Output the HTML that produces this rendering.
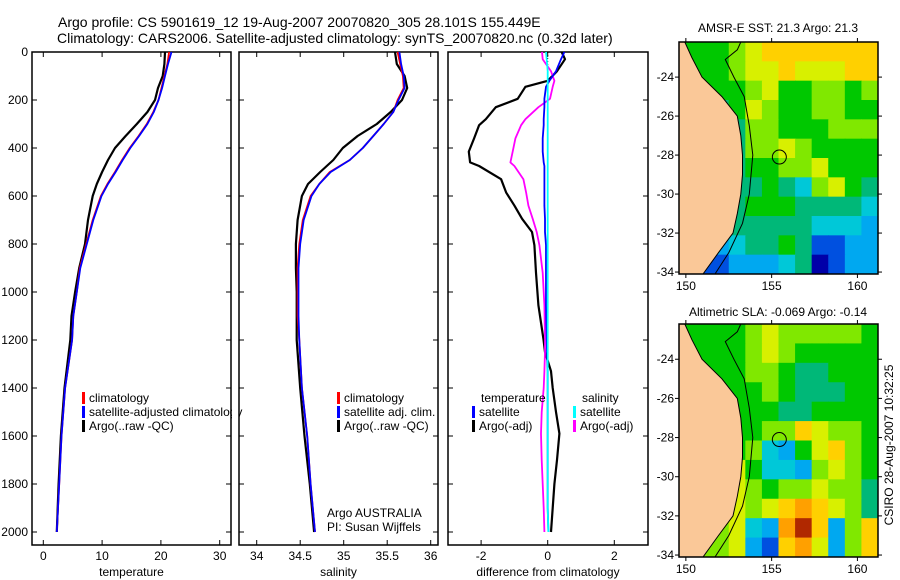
<!DOCTYPE html>
<html><head><meta charset="utf-8">
<style>
html,body{margin:0;padding:0;background:#fff;}
svg{display:block;font-family:"Liberation Sans",sans-serif;}
</style></head>
<body>
<svg id="fig" width="900" height="580" viewBox="0 0 900 580" xmlns="http://www.w3.org/2000/svg">
<text x="58" y="27" font-size="14">Argo profile: CS 5901619_12 19-Aug-2007 20070820_305 28.101S 155.449E</text>
<text x="57" y="43" font-size="14">Climatology: CARS2006. Satellite-adjusted climatology: synTS_20070820.nc (0.32d later)</text>
<text x="778" y="32" font-size="12" text-anchor="middle">AMSR-E SST: 21.3 Argo: 21.3</text>
<text x="778" y="316" font-size="12" text-anchor="middle">Altimetric SLA: -0.069 Argo: -0.14</text>
<text transform="translate(893,445) rotate(-90)" font-size="12" text-anchor="middle">CSIRO 28-Aug-2007 10:32:25</text>
</svg>
<script>
// ---- profile data ----
const depthsP = [0,50,100,150,200,250,300,350,400,450,500,550,600,700,800,900,1000,1100,1200,1400,1600,1800,2000];
const climT = [21.4,21.1,20.6,20.1,19.6,18.7,17.6,16.2,14.7,13.4,12.2,10.9,9.8,8.4,7.3,6.2,5.7,5.1,4.9,3.7,3.1,2.7,2.3];
const satT  = [21.8,21.2,20.7,20.2,19.6,18.8,17.7,16.3,14.8,13.5,12.3,11.0,9.9,8.5,7.4,6.3,5.7,5.1,4.9,3.7,3.1,2.7,2.3];
const argoT = [20.7,20.6,20.3,19.5,19.0,17.7,15.9,14.0,12.2,11.0,10.0,9.1,8.4,7.6,7.1,6.1,5.4,4.8,4.6,3.6,3.0,2.6,2.3];
const climS = [35.62,35.65,35.68,35.69,35.62,35.57,35.46,35.34,35.22,35.07,34.84,34.72,34.62,34.53,34.49,34.47,34.47,34.47,34.49,34.52,34.58,34.62,34.67];
const satS  = [35.64,35.66,35.69,35.70,35.63,35.57,35.46,35.34,35.22,35.07,34.85,34.72,34.63,34.54,34.50,34.48,34.48,34.48,34.49,34.52,34.58,34.62,34.67];
const argoS = [35.59,35.61,35.70,35.73,35.67,35.54,35.38,35.16,34.99,34.88,34.73,34.59,34.52,34.47,34.45,34.45,34.46,34.46,34.46,34.50,34.55,34.61,34.66];
const depthsD = [0,30,80,120,145,195,230,280,305,360,415,460,475,530,585,640,695,750,805,920,1055,1195,1250,1330,1400,1500,1590,1700,1800,1900,2000];
const dArgoT = [0.42,0.52,0.28,0,-0.67,-0.9,-1.56,-1.86,-2.06,-2.21,-2.37,-2.33,-2.06,-1.4,-1.25,-1.0,-0.77,-0.47,-0.4,-0.35,-0.28,-0.13,-0.08,0.1,0.15,0.25,0.35,0.28,0.2,0.15,0.1];
const dArgoS = [-0.17,-0.15,0.1,0.2,0.15,0.07,-0.28,-0.67,-0.8,-0.97,-1.05,-1.12,-1.0,-0.73,-0.65,-0.58,-0.45,-0.33,-0.25,-0.15,-0.1,-0.08,-0.08,-0.1,-0.12,-0.18,-0.2,-0.18,-0.15,-0.12,-0.1];
const dSatT = [0.5,0.4,0.25,0.05,-0.05,-0.1,-0.1,-0.12,-0.12,-0.15,-0.15,-0.12,-0.1,-0.1,-0.1,-0.1,-0.08,-0.08,-0.05,-0.05,-0.05,-0.03,-0.02,0,0,0,0,0,0,0,0.02];
const dSatS = [-0.05,-0.03,0,0,0,0,0,0,0,0,0,0,0,0,0,0,0,0,0,0,0,0,0,0,0,0,0,0,0,0,0.02];
const depthTicks = [0,200,400,600,800,1000,1200,1400,1600,1800,2000];
const tTicks = [0,10,20,30];
const sTicks = [34,34.5,35,35.5,36];
const sTickLabels = ["34","34.5","35","35.5","36"];
const dTicks = [-2,0,2];
// ---- map data (palette indices 0..11) ----
const sstGrid = [
[5,5,5,6,7,8,8,8,8,8,8,8],
[5,5,5,6,7,7,8,7,7,7,8,8],
[4,5,5,5,6,7,5,5,6,6,5,6],
[4,4,4,5,7,6,5,5,6,6,5,5],
[4,4,4,4,6,6,5,5,5,6,6,6],
[4,4,3,4,6,6,7,6,5,5,5,5],
[4,4,3,4,5,5,6,6,7,5,5,5],
[4,4,3,4,4,5,4,3,6,7,5,4],
[4,4,3,4,5,5,5,4,4,4,4,3],
[3,3,3,4,4,4,4,4,3,3,3,2],
[2,2,2,3,4,4,5,4,1,1,2,2],
[1,1,1,2,2,2,3,4,0,1,2,2]];
const slaGrid = [
[5,5,5,5,6,7,6,6,6,6,6,5],
[5,5,5,5,6,7,6,5,5,5,5,5],
[5,5,5,5,6,6,5,4,4,5,5,5],
[5,5,5,5,5,6,5,4,4,4,5,5],
[5,5,5,5,5,5,4,4,5,5,5,5],
[5,5,5,5,5,6,6,8,7,6,6,5],
[5,5,5,5,6,3,2,5,7,8,6,5],
[5,5,5,7,5,3,3,2,6,7,6,5],
[5,5,5,7,6,5,6,6,7,6,6,4],
[5,6,6,7,6,7,8,9,8,7,6,4],
[5,6,6,7,3,2,9,11,8,2,6,8],
[5,6,6,7,2,1,8,9,7,2,6,8]];
const palette = ["#0000a8","#0050e0","#00a8f0","#00c8d8","#00b878","#00c800","#80e800","#d8f000","#ffd000","#ffa000","#e06000","#b02800"];
const coastLon = [149.94,150.35,150.94,152.1,153.0,153.2,153.3,153.3,153.2,153.0,152.75,151.9,151.0];
const coastLat = [-22.2,-23,-24,-25,-26,-27,-28,-29,-30,-31,-32,-33,-34.1];
const isoLon = [153.2,153.0,152.3,152.8,153.4,153.7,153.9,153.7,153.3,152.5,151.7];
const isoLat = [-22.2,-22.6,-23.1,-24,-25,-26.5,-28,-30,-31.5,-33,-34.1];
const latTicks = [-24,-26,-28,-30,-32,-34];
const lonTicks = [150,155,160];
const argoLon = 155.449, argoLat = -28.101;

const NS = "http://www.w3.org/2000/svg";
const svg = document.getElementById('fig');
function el(tag, attrs, parent){ const e=document.createElementNS(NS,tag); for(const k in attrs) e.setAttribute(k,attrs[k]); (parent||svg).appendChild(e); return e; }

const yTop=52, yBot=545;
const yD = d => 52 + d*0.24;

function panel(name, x0, x1, xs, ticks, labels, xlabel, showY){
  const g = el('g',{});
  
  
  const r = el('rect',{x:x0,y:yTop,width:x1-x0,height:yBot-yTop,fill:'none',stroke:'#000','stroke-width':1.5},g);
  
  
  ticks.forEach((t,i)=>{
    const x = xs(t);
    el('line',{x1:x,y1:yTop,x2:x,y2:yTop+5,stroke:'#000'},g);
    el('line',{x1:x,y1:yBot,x2:x,y2:yBot-5,stroke:'#000'},g);
    const tx = el('text',{x:x,y:560,'font-size':12,'text-anchor':'middle'},g);
    tx.textContent = labels[i];
    
    
  });
  depthTicks.forEach(d=>{
    const y=yD(d);
    el('line',{x1:x0,y1:y,x2:x0+5,y2:y,stroke:'#000'},g);
    el('line',{x1:x1,y1:y,x2:x1-5,y2:y,stroke:'#000'},g);
    if(showY){
      const tx = el('text',{x:28,y:y+4,'font-size':12,'text-anchor':'end'},g);
      tx.textContent = d;
      
      
    }
  });
  const xl = el('text',{x:(x0+x1)/2,y:576,'font-size':12,'text-anchor':'middle'},g);
  xl.textContent = xlabel;
  
  
  return g;
}
function line(name, xsArr, dArr, xs, color, w){
  const pts = xsArr.map((v,i)=>xs(v).toFixed(1)+','+yD(dArr[i]).toFixed(1)).join(' ');
  const p = el('polyline',{points:pts,fill:'none',stroke:color,'stroke-width':w,'stroke-linejoin':'round'});
  
  
}
function legend(name, x, y, color, label){
  const g = el('g',{});
  
  
  el('rect',{x:x,y:y-10,width:3,height:12,fill:color},g);
  const t = el('text',{x:x+7,y:y,'font-size':12},g);
  t.textContent = label;
}

const xT = v => 43.3 + v*5.88;
panel('temperature-panel',32,231,xT,tTicks,tTicks.map(String),'temperature',true);
line('temperature-argo-line', argoT, depthsP, xT, '#000', 2.2);
line('temperature-climatology-line', climT, depthsP, xT, '#f00', 1.8);
line('temperature-satellite-line', satT, depthsP, xT, '#00f', 1.8);
legend('legend-climatology', 82, 402, '#f00', 'climatology');
legend('legend-satellite-adjusted', 82, 416, '#00f', 'satellite-adjusted climatology');
legend('legend-argo-raw', 82, 430, '#000', 'Argo(..raw -QC)');

const cover = el('rect',{x:232,y:52,width:7,height:494,fill:'#fff'});



const xS = v => 256.7 + (v-34)*87;
panel('salinity-panel',239,438,xS,sTicks,sTickLabels,'salinity',false);
line('salinity-argo-line', argoS, depthsP, xS, '#000', 2.2);
line('salinity-climatology-line', climS, depthsP, xS, '#f00', 1.8);
line('salinity-satellite-line', satS, depthsP, xS, '#00f', 1.8);
legend('legend-s-climatology', 337, 402, '#f00', 'climatology');
legend('legend-s-satellite', 337, 416, '#00f', 'satellite adj. clim.');
legend('legend-s-argo', 337, 430, '#000', 'Argo(..raw -QC)');
const a1 = el('text',{x:327,y:517,'font-size':12}); a1.textContent='Argo AUSTRALIA';
 
const a2 = el('text',{x:327,y:531,'font-size':12}); a2.textContent='PI: Susan Wijffels';
 

const xDf = v => 547.7 + v*33.3;
panel('difference-panel',448,648,xDf,dTicks,dTicks.map(String),'difference from climatology',false);
const zl = el('line',{x1:xDf(0),y1:yTop,x2:xDf(0),y2:yD(1000),stroke:'#000','stroke-dasharray':'1,2'});
 
line('diff-argo-temperature-line', dArgoT, depthsD, xDf, '#000', 2.2);
line('diff-argo-salinity-line', dArgoS, depthsD, xDf, '#f0f', 1.8);
line('diff-satellite-temperature-line', dSatT, depthsD, xDf, '#00f', 1.8);
line('diff-satellite-salinity-line', dSatS, depthsD, xDf, '#0ff', 1.8);
const lt = el('text',{x:481,y:402,'font-size':12}); lt.textContent='temperature';
 
const ls = el('text',{x:582,y:402,'font-size':12}); ls.textContent='salinity';
 
legend('legend-d-t-satellite', 472, 416, '#00f', 'satellite');
legend('legend-d-t-argo', 472, 430, '#000', 'Argo(-adj)');
legend('legend-d-s-satellite', 573, 416, '#0ff', 'satellite');
legend('legend-d-s-argo', 573, 430, '#f0f', 'Argo(-adj)');

function drawMap(name, grid, top, bottom){
  const L=679, R=878, lon0=149.6, lon1=161.2, latTop=-22.2, latBot=-34.1;
  const mx = lo => L + (lo-lon0)/(lon1-lon0)*(R-L);
  const my = la => top + (latTop-la)/(latTop-latBot)*(bottom-top);
  const g = el('g',{});
  
  
  const cid = name+'-clip';
  const cp = el('clipPath',{id:cid},g);
  el('rect',{x:L,y:top,width:R-L,height:bottom-top},cp);
  const inner = el('g',{'clip-path':'url(#'+cid+')'},g);
  const rows=grid.length, cols=grid[0].length;
  const cw=(R-L)/cols, ch=(bottom-top)/rows;
  grid.forEach((row,ri)=>row.forEach((v,ci)=>{
    const c = el('rect',{x:L+ci*cw,y:top+ri*ch,width:cw+0.6,height:ch+0.6,fill:palette[v]},inner);
    
    
  }));
  let pts = coastLon.map((lo,i)=>mx(lo).toFixed(1)+','+my(coastLat[i]).toFixed(1));
  pts.push(mx(149)+','+my(-34.5)); pts.push(mx(149)+','+my(-22));
  const land = el('polygon',{points:pts.join(' '),fill:'#fac898',stroke:'#000','stroke-width':1},inner);
  
  
  const iso = el('polyline',{points:isoLon.map((lo,i)=>mx(lo).toFixed(1)+','+my(isoLat[i]).toFixed(1)).join(' '),fill:'none',stroke:'#000','stroke-width':1},inner);
  
  
  const circ = el('circle',{cx:mx(argoLon),cy:my(argoLat),r:7,fill:'none',stroke:'#000','stroke-width':1},g);
  
  
  const fr = el('rect',{x:L,y:top,width:R-L,height:bottom-top,fill:'none',stroke:'#000','stroke-width':1.5},g);
  
  
  latTicks.forEach(la=>{
    const y=my(la);
    el('line',{x1:L-4,y1:y,x2:L,y2:y,stroke:'#000'},g);
    el('line',{x1:R,y1:y,x2:R+4,y2:y,stroke:'#000'},g);
    const t = el('text',{x:L-5,y:y+4,'font-size':12,'text-anchor':'end'},g);
    t.textContent = la;
    
    
  });
  lonTicks.forEach(lo=>{
    const x=mx(lo);
    el('line',{x1:x,y1:top-4,x2:x,y2:top,stroke:'#000'},g);
    el('line',{x1:x,y1:bottom,x2:x,y2:bottom+4,stroke:'#000'},g);
    const t = el('text',{x:x,y:bottom+16,'font-size':12,'text-anchor':'middle'},g);
    t.textContent = lo;
    
    
  });
}
drawMap('sst-map', sstGrid, 42, 274);
drawMap('sla-map', slaGrid, 324, 557);
</script>
</body></html>
